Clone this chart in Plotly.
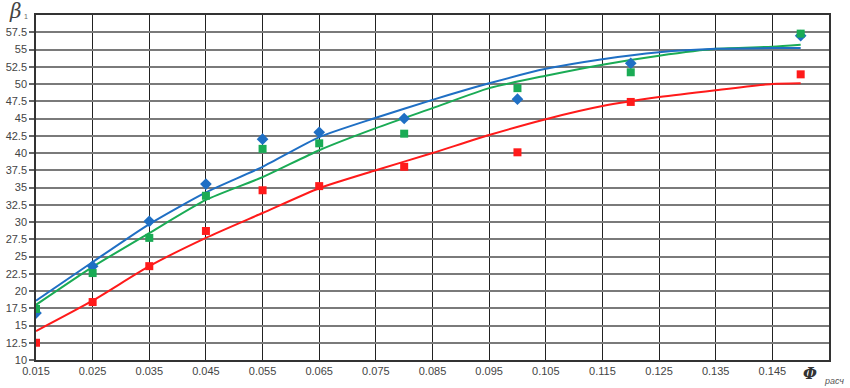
import plotly.graph_objects as go

# Data
x_pts = [0.015, 0.025, 0.035, 0.045, 0.055, 0.065, 0.08, 0.1, 0.12, 0.15]
blue_pts = [16.8, 23.6, 30.1, 35.5, 42.0, 43.0, 45.0, 47.8, 53.0, 57.0]
green_pts = [17.4, 22.6, 27.7, 33.8, 40.6, 41.4, 42.8, 49.4, 51.7, 57.3]
red_pts = [12.5, 18.4, 23.6, 28.7, 34.6, 35.2, 38.0, 40.1, 47.4, 51.4]

# Trend lines
x_trend = [0.015, 0.025, 0.035, 0.045, 0.055, 0.065, 0.075, 0.085, 0.095,
           0.105, 0.115, 0.125, 0.135, 0.145, 0.15]
blue_trend = [18.6, 24.2, 29.7, 34.3, 38.0, 42.3, 45.1, 47.7, 50.1,
              52.2, 53.6, 54.6, 55.1, 55.2, 55.2]
green_trend = [18.0, 23.5, 28.4, 33.2, 36.5, 40.4, 43.6, 46.5, 49.4,
               51.2, 52.8, 54.1, 55.1, 55.4, 55.7]
red_trend = [14.2, 18.6, 23.6, 27.7, 31.3, 34.9, 37.5, 40.0, 42.6,
             44.9, 46.8, 48.1, 49.1, 50.0, 50.1]

x_ticks = [0.015, 0.025, 0.035, 0.045, 0.055, 0.065, 0.075, 0.085, 0.095,
           0.105, 0.115, 0.125, 0.135, 0.145]
x_tick_labels = ["0.015", "0.025", "0.035", "0.045", "0.055", "0.065", "0.075",
                 "0.085", "0.095", "0.105", "0.115", "0.125", "0.135", "0.145"]
y_ticks = [10, 12.5, 15, 17.5, 20, 22.5, 25, 27.5, 30, 32.5, 35, 37.5, 40,
           42.5, 45, 47.5, 50, 52.5, 55, 57.5]
y_tick_labels = ["10", "12.5", "15", "17.5", "20", "22.5", "25", "27.5", "30",
                 "32.5", "35", "37.5", "40", "42.5", "45", "47.5", "50", "52.5",
                 "55", "57.5"]

BLUE = "#1f6fc4"
GREEN = "#1aab55"
RED = "#ff1a1a"

fig = go.Figure()

for yt, col in [(red_trend, RED), (green_trend, GREEN), (blue_trend, BLUE)]:
    fig.add_trace(go.Scatter(x=x_trend, y=yt, mode="lines",
                             line=dict(color=col, width=2, shape="spline", smoothing=0.6),
                             showlegend=False, hoverinfo="skip"))

fig.add_trace(go.Scatter(x=x_pts, y=red_pts, mode="markers",
                         marker=dict(symbol="square", size=8, color=RED),
                         showlegend=False))
fig.add_trace(go.Scatter(x=x_pts, y=blue_pts, mode="markers",
                         marker=dict(symbol="diamond", size=9, color=BLUE),
                         showlegend=False))
fig.add_trace(go.Scatter(x=x_pts, y=green_pts, mode="markers",
                         marker=dict(symbol="square", size=8, color=GREEN),
                         showlegend=False))

fig.update_layout(
    width=850, height=388,
    margin=dict(l=36, r=21, t=15, b=28, autoexpand=False),
    paper_bgcolor="white", plot_bgcolor="white",
    font=dict(family="Liberation Sans, Arial, sans-serif", size=11, color="#333"),
)

fig.update_xaxes(
    range=[0.015, 0.155], tickvals=x_ticks, ticktext=x_tick_labels,
    showgrid=True, gridcolor="#222", gridwidth=1.3,
    showline=True, linecolor="#333", linewidth=1.5, mirror=True,
    ticks="", zeroline=False, automargin=False,
    tickfont=dict(size=11, color="#444"),
)
fig.update_yaxes(
    range=[10, 60], tickvals=y_ticks, ticktext=y_tick_labels,
    showgrid=True, gridcolor="#7a7a7a", gridwidth=2,
    showline=True, linecolor="#333", linewidth=1.5, mirror=True,
    ticks="outside", ticklen=5, tickcolor="#666", tickwidth=1.5,
    zeroline=False, automargin=False,
    tickfont=dict(size=11, color="#444"),
)

fig.add_annotation(xref="paper", yref="paper", x=-0.026, y=1.012,
                   text="<i>β</i>", showarrow=False,
                   font=dict(family="DejaVu Serif, serif", size=20, color="#444"),
                   xanchor="center", yanchor="middle")
fig.add_annotation(xref="paper", yref="paper", x=-0.012, y=0.995,
                   text="1", showarrow=False,
                   font=dict(size=7, color="#666"),
                   xanchor="center", yanchor="middle")
fig.add_annotation(xref="paper", yref="paper", x=0.976, y=-0.038,
                   text="<b><i>Φ</i></b>", showarrow=False,
                   font=dict(family="DejaVu Serif, serif", size=16, color="#333"),
                   xanchor="center", yanchor="middle")
fig.add_annotation(xref="paper", yref="paper", x=1.006, y=-0.062,
                   text="<i>расч</i>", showarrow=False,
                   font=dict(size=9, color="#555"),
                   xanchor="center", yanchor="middle")

fig.write_html(
    "out.html",
    config={"displayModeBar": False},
    post_script="document.body.style.margin='0';document.body.style.overflow='hidden';",
)
